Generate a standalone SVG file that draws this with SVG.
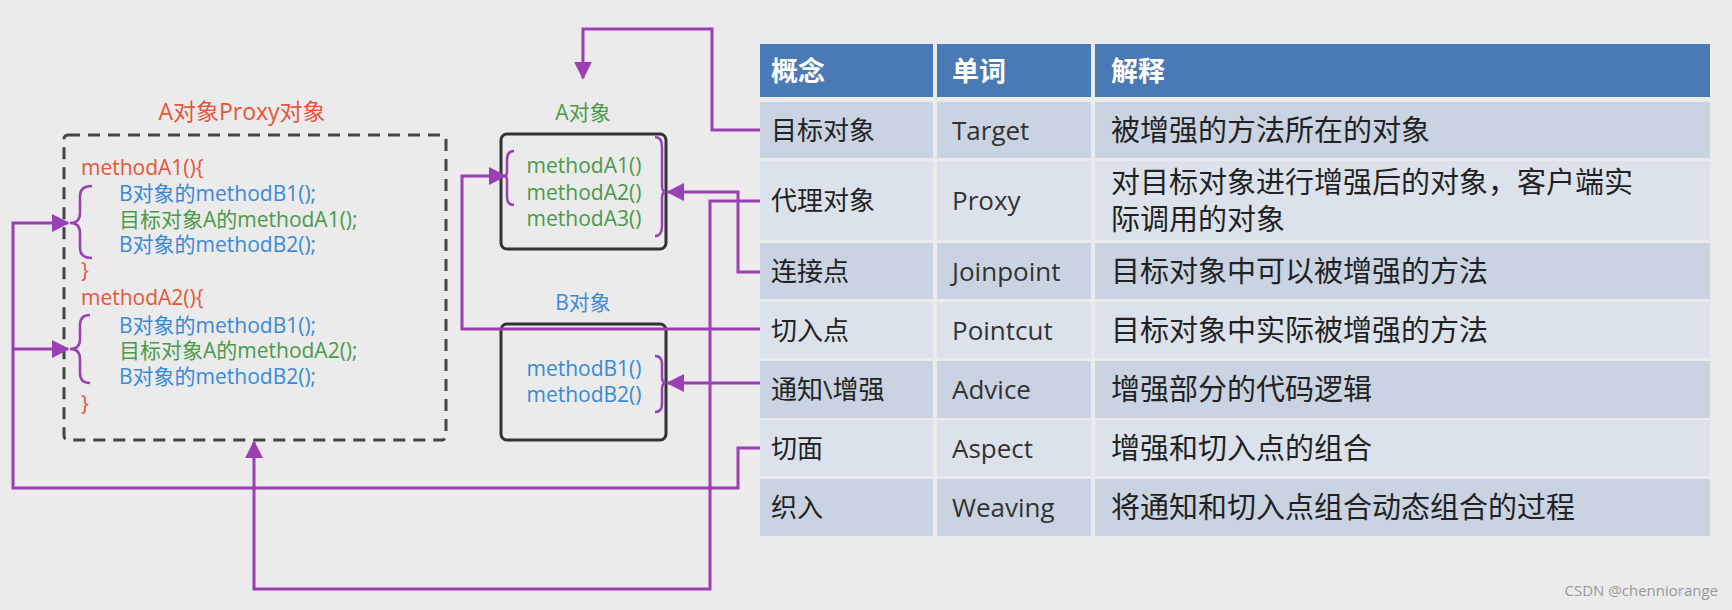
<svg xmlns="http://www.w3.org/2000/svg" width="1732" height="610" viewBox="0 0 1732 610">
<style>
text{font-family:"Open Sans","Noto Sans CJK SC",sans-serif}
.code{font-size:21px}
.red{fill:#e8553a}.grn{fill:#4a9a4a}.blu{fill:#3a8ad8}
.m{font-size:21px;text-anchor:middle}
.hd{fill:#fff;font-size:27px;font-weight:bold}
.cell{fill:#222;font-size:26px}
.ex{fill:#222;font-size:29px}
.en{fill:#333;font-size:26px}
.c{fill:none;stroke:#9b3fb5;stroke-width:3}
.br{fill:none;stroke:#9b3fb5;stroke-width:2.5}
.box{fill:none;stroke:#333;stroke-width:3}
.dk{fill:#c9d3e2}.lt{fill:#dce2eb}
</style>
<defs><marker id="ah" viewBox="0 0 10 10" refX="9" refY="5" markerWidth="6" markerHeight="6" markerUnits="strokeWidth" orient="auto"><path d="M0,0L10,5L0,10z" fill="#9b3fb5"/></marker></defs>
<rect width="1732" height="610" fill="#ebebeb"/>
<g id="proxy">
<text x="242" y="120" text-anchor="middle" class="red" font-size="23">A对象Proxy对象</text>
<rect x="64" y="135" width="382" height="305" rx="4" fill="none" stroke="#444" stroke-width="3" stroke-dasharray="12,8"/>
<text class="code red" x="81" y="175">methodA1(){</text>
<text class="code blu" x="119" y="201">B对象的methodB1();</text>
<text class="code grn" x="119" y="227">目标对象A的methodA1();</text>
<text class="code blu" x="119" y="252">B对象的methodB2();</text>
<text class="code red" x="81" y="278">}</text>
<text class="code red" x="81" y="305">methodA2(){</text>
<text class="code blu" x="119" y="333">B对象的methodB1();</text>
<text class="code grn" x="119" y="358">目标对象A的methodA2();</text>
<text class="code blu" x="119" y="384">B对象的methodB2();</text>
<text class="code red" x="81" y="411">}</text>
<path class="br" d="M92,186 Q80,186 80,196 L80,213 Q80,223 70,223 Q80,223 80,233 L80,248 Q80,258 92,258"/>
<path class="br" d="M90,315 Q80,315 80,325 L80,339 Q80,349 70,349 Q80,349 80,359 L80,373 Q80,383 90,383"/>
</g>
<g id="aobj">
<text x="583" y="120" class="m grn">A对象</text>
<rect class="box" x="501" y="134" width="165" height="115" rx="6"/>
<text x="584" y="173" class="m grn">methodA1()</text>
<text x="584" y="200" class="m grn">methodA2()</text>
<text x="584" y="226" class="m grn">methodA3()</text>
<path class="br" d="M514,151 Q507,151 507,160 L507,172 Q507,176 504,176 Q507,176 507,180 L507,197 Q507,205 514,205"/>
<path class="br" d="M655,137 Q662,137 662,147 L662,186 Q662,192 666,192 Q662,192 662,198 L662,226 Q662,236 655,236"/>
</g>
<g id="bobj">
<text x="583" y="310" class="m blu">B对象</text>
<rect class="box" x="501" y="324" width="165" height="116" rx="6"/>
<text x="584" y="376" class="m blu">methodB1()</text>
<text x="584" y="402" class="m blu">methodB2()</text>
<path class="br" d="M655,356 Q662,356 662,364 L662,377 Q662,383 666,383 Q662,383 662,389 L662,404 Q662,412 655,412"/>
</g>
<g id="table">
<rect x="760" y="44" width="950" height="53" fill="#4a7ab5"/>
<rect class="dk" x="760" y="102" width="950" height="56"/>
<rect class="lt" x="760" y="161" width="950" height="79"/>
<rect class="dk" x="760" y="243" width="950" height="56"/>
<rect class="lt" x="760" y="302" width="950" height="56"/>
<rect class="dk" x="760" y="361" width="950" height="57"/>
<rect class="lt" x="760" y="420" width="950" height="56"/>
<rect class="dk" x="760" y="479" width="950" height="57"/>
<rect x="933" y="44" width="4" height="492" fill="#ebebeb"/>
<rect x="1091" y="44" width="4" height="492" fill="#ebebeb"/>
<text class="hd" x="771" y="81">概念</text><text class="hd" x="952" y="81">单词</text><text class="hd" x="1111" y="81">解释</text>
<text class="cell" x="771" y="140">目标对象</text><text class="en" x="952" y="140">Target</text><text class="ex" x="1111" y="141">被增强的方法所在的对象</text>
<text class="cell" x="771" y="210">代理对象</text><text class="en" x="952" y="210">Proxy</text><text class="ex" x="1111" y="193">对目标对象进行增强后的对象，客户端实</text><text class="ex" x="1111" y="230">际调用的对象</text>
<text class="cell" x="771" y="281">连接点</text><text class="en" x="952" y="281">Joinpoint</text><text class="ex" x="1111" y="282">目标对象中可以被增强的方法</text>
<text class="cell" x="771" y="340">切入点</text><text class="en" x="952" y="340">Pointcut</text><text class="ex" x="1111" y="341">目标对象中实际被增强的方法</text>
<text class="cell" x="771" y="399">通知\增强</text><text class="en" x="952" y="399">Advice</text><text class="ex" x="1111" y="400">增强部分的代码逻辑</text>
<text class="cell" x="771" y="458">切面</text><text class="en" x="952" y="458">Aspect</text><text class="ex" x="1111" y="459">增强和切入点的组合</text>
<text class="cell" x="771" y="517">织入</text><text class="en" x="952" y="517">Weaving</text><text class="ex" x="1111" y="518">将通知和切入点组合动态组合的过程</text>
</g>
<g id="connectors">
<polyline class="c" points="760,130 712,130 712,29 583,29 583,78" marker-end="url(#ah)"/>
<polyline class="c" points="760,201 710,201 710,589 254,589 254,442" marker-end="url(#ah)"/>
<polyline class="c" points="760,272 738,272 738,192 668,192" marker-end="url(#ah)"/>
<polyline class="c" points="760,329 462,329 462,176 505,176" marker-end="url(#ah)"/>
<polyline class="c" points="760,383 668,383" marker-end="url(#ah)"/>
<polyline class="c" points="760,448 738,448 738,488 13,488 13,223 68,223" marker-end="url(#ah)"/>
<polyline class="c" points="13,349 68,349" marker-end="url(#ah)"/>
</g>
<text x="1718" y="596" text-anchor="end" fill="#999" font-size="15">CSDN @chenniorange</text>
</svg>
